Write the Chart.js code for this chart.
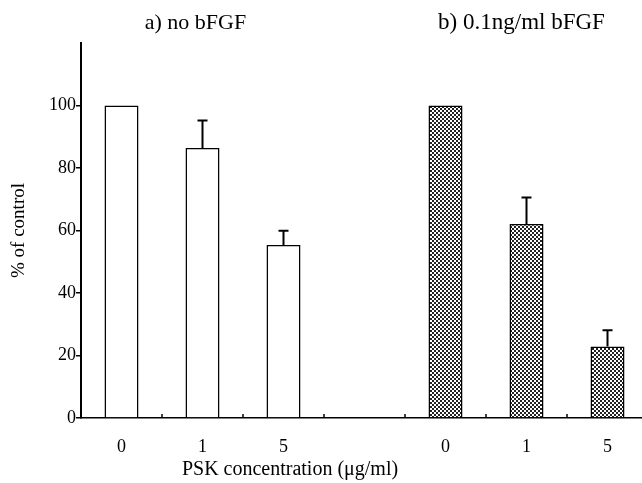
<!DOCTYPE html>
<html>
<head>
<meta charset="utf-8">
<script src="https://cdn.jsdelivr.net/npm/chart.js@4"></script>
<style>
  body { margin: 0; background: #fff; overflow: hidden; }
  #wrap { width: 648px; height: 483px; }
</style>
</head>
<body>
<div id="wrap"><canvas id="myChart" width="648" height="483"></canvas></div>
<script>
// PSK concentration (ug/ml), two panels separated by an empty slot
var concentrations = ['0', '1', '5', '', '0', '1', '5'];
var no_bfgf = [100, 86.4, 55.4, null, null, null, null];
var no_bfgf_err = [0, 8.8, 4.5, null, null, null, null];
var with_bfgf = [null, null, null, null, 100, 62.1, 22.9];
var with_bfgf_err = [null, null, null, null, 0, 8.5, 5.2];
var yTicks = [0, 20, 40, 60, 80, 100];

var ctx = document.getElementById('myChart');
var serif = "'Liberation Serif', 'DejaVu Serif', serif";

// checkered fill for the bFGF bars
var pc = document.createElement('canvas');
pc.width = 4; pc.height = 4;
var pctx = pc.getContext('2d');
pctx.fillStyle = '#fff';
pctx.fillRect(0, 0, 4, 4);
pctx.fillStyle = '#222';
pctx.fillRect(0, 0, 2, 2);
pctx.fillRect(2, 2, 2, 2);
var checker = ctx.getContext('2d').createPattern(pc, 'repeat');

var errorBars = {
    id: 'errorBars',
    afterDatasetsDraw: function(chart) {
        var c = chart.ctx;
        var y = chart.scales.y;
        var errs = [no_bfgf_err, with_bfgf_err];
        c.save();
        c.strokeStyle = '#000';
        c.lineWidth = 2;
        chart.data.datasets.forEach(function(ds, di) {
            var meta = chart.getDatasetMeta(di);
            ds.data.forEach(function(v, i) {
                var e = errs[di][i];
                if (v == null || !e) return;
                var x = meta.data[i].x;
                var top = y.getPixelForValue(v + e);
                c.beginPath();
                c.moveTo(x, y.getPixelForValue(v));
                c.lineTo(x, top);
                c.moveTo(x - 5, top);
                c.lineTo(x + 5, top);
                c.stroke();
            });
        });
        c.restore();
    }
};

var extras = {
    id: 'extras',
    afterDraw: function(chart) {
        var c = chart.ctx;
        var x = chart.scales.x;
        var area = chart.chartArea;
        c.save();
        // small inward ticks between categories
        c.strokeStyle = '#000';
        c.lineWidth = 1.5;
        for (var i = 0; i < concentrations.length - 1; i++) {
            var px = (x.getPixelForValue(i) + x.getPixelForValue(i + 1)) / 2;
            c.beginPath();
            c.moveTo(px, area.bottom);
            c.lineTo(px, area.bottom - 4);
            c.stroke();
        }
        c.fillStyle = '#000';
        c.textAlign = 'center';
        c.textBaseline = 'middle';
        c.font = '22px ' + serif;
        c.fillText('a) no bFGF', x.getPixelForValue(1) - 7, 23);
        c.font = '23px ' + serif;
        c.fillText('b) 0.1ng/ml bFGF', x.getPixelForValue(5) - 5, 23);
        c.font = '20px ' + serif;
        c.fillText('PSK concentration (\u03bcg/ml)', 290, 470);
        c.restore();
    }
};

var myChart = new Chart(ctx, {
    type: 'bar',
    data: {
        labels: concentrations,
        datasets: [{
            label: 'no bFGF',
            data: no_bfgf,
            backgroundColor: '#fff',
            borderColor: '#000',
            borderWidth: 1.5,
            grouped: false
        }, {
            label: '0.1ng/ml bFGF',
            data: with_bfgf,
            backgroundColor: checker,
            borderColor: '#000',
            borderWidth: 1.5,
            grouped: false
        }]
    },
    options: {
        responsive: false,
        animation: false,
        events: [],
        barPercentage: 0.42,
        categoryPercentage: 1,
        layout: { padding: { top: 43, right: 0, left: 0, bottom: 0 } },
        plugins: {
            legend: { display: false },
            tooltip: { enabled: false }
        },
        scales: {
            x: {
                grid: { display: false },
                border: { display: true, color: '#000', width: 1.5 },
                ticks: { color: '#000', font: { family: serif, size: 18 }, padding: 10 },
                afterFit: function(axis) { axis.height = 65; }
            },
            y: {
                min: 0,
                max: 120,
                afterBuildTicks: function(axis) {
                    axis.ticks = yTicks.map(function(v) { return { value: v }; });
                },
                grid: { drawOnChartArea: false, drawTicks: true, tickLength: 5, color: '#000', lineWidth: 1.5 },
                border: { color: '#000', width: 2 },
                ticks: { color: '#000', font: { family: serif, size: 18 }, padding: 0 },
                title: { display: true, text: '% of control', color: '#000', font: { family: serif, size: 19 }, padding: 8 },
                afterFit: function(axis) { axis.width = 81; }
            }
        }
    },
    plugins: [errorBars, extras]
});
</script>
</body>
</html>
